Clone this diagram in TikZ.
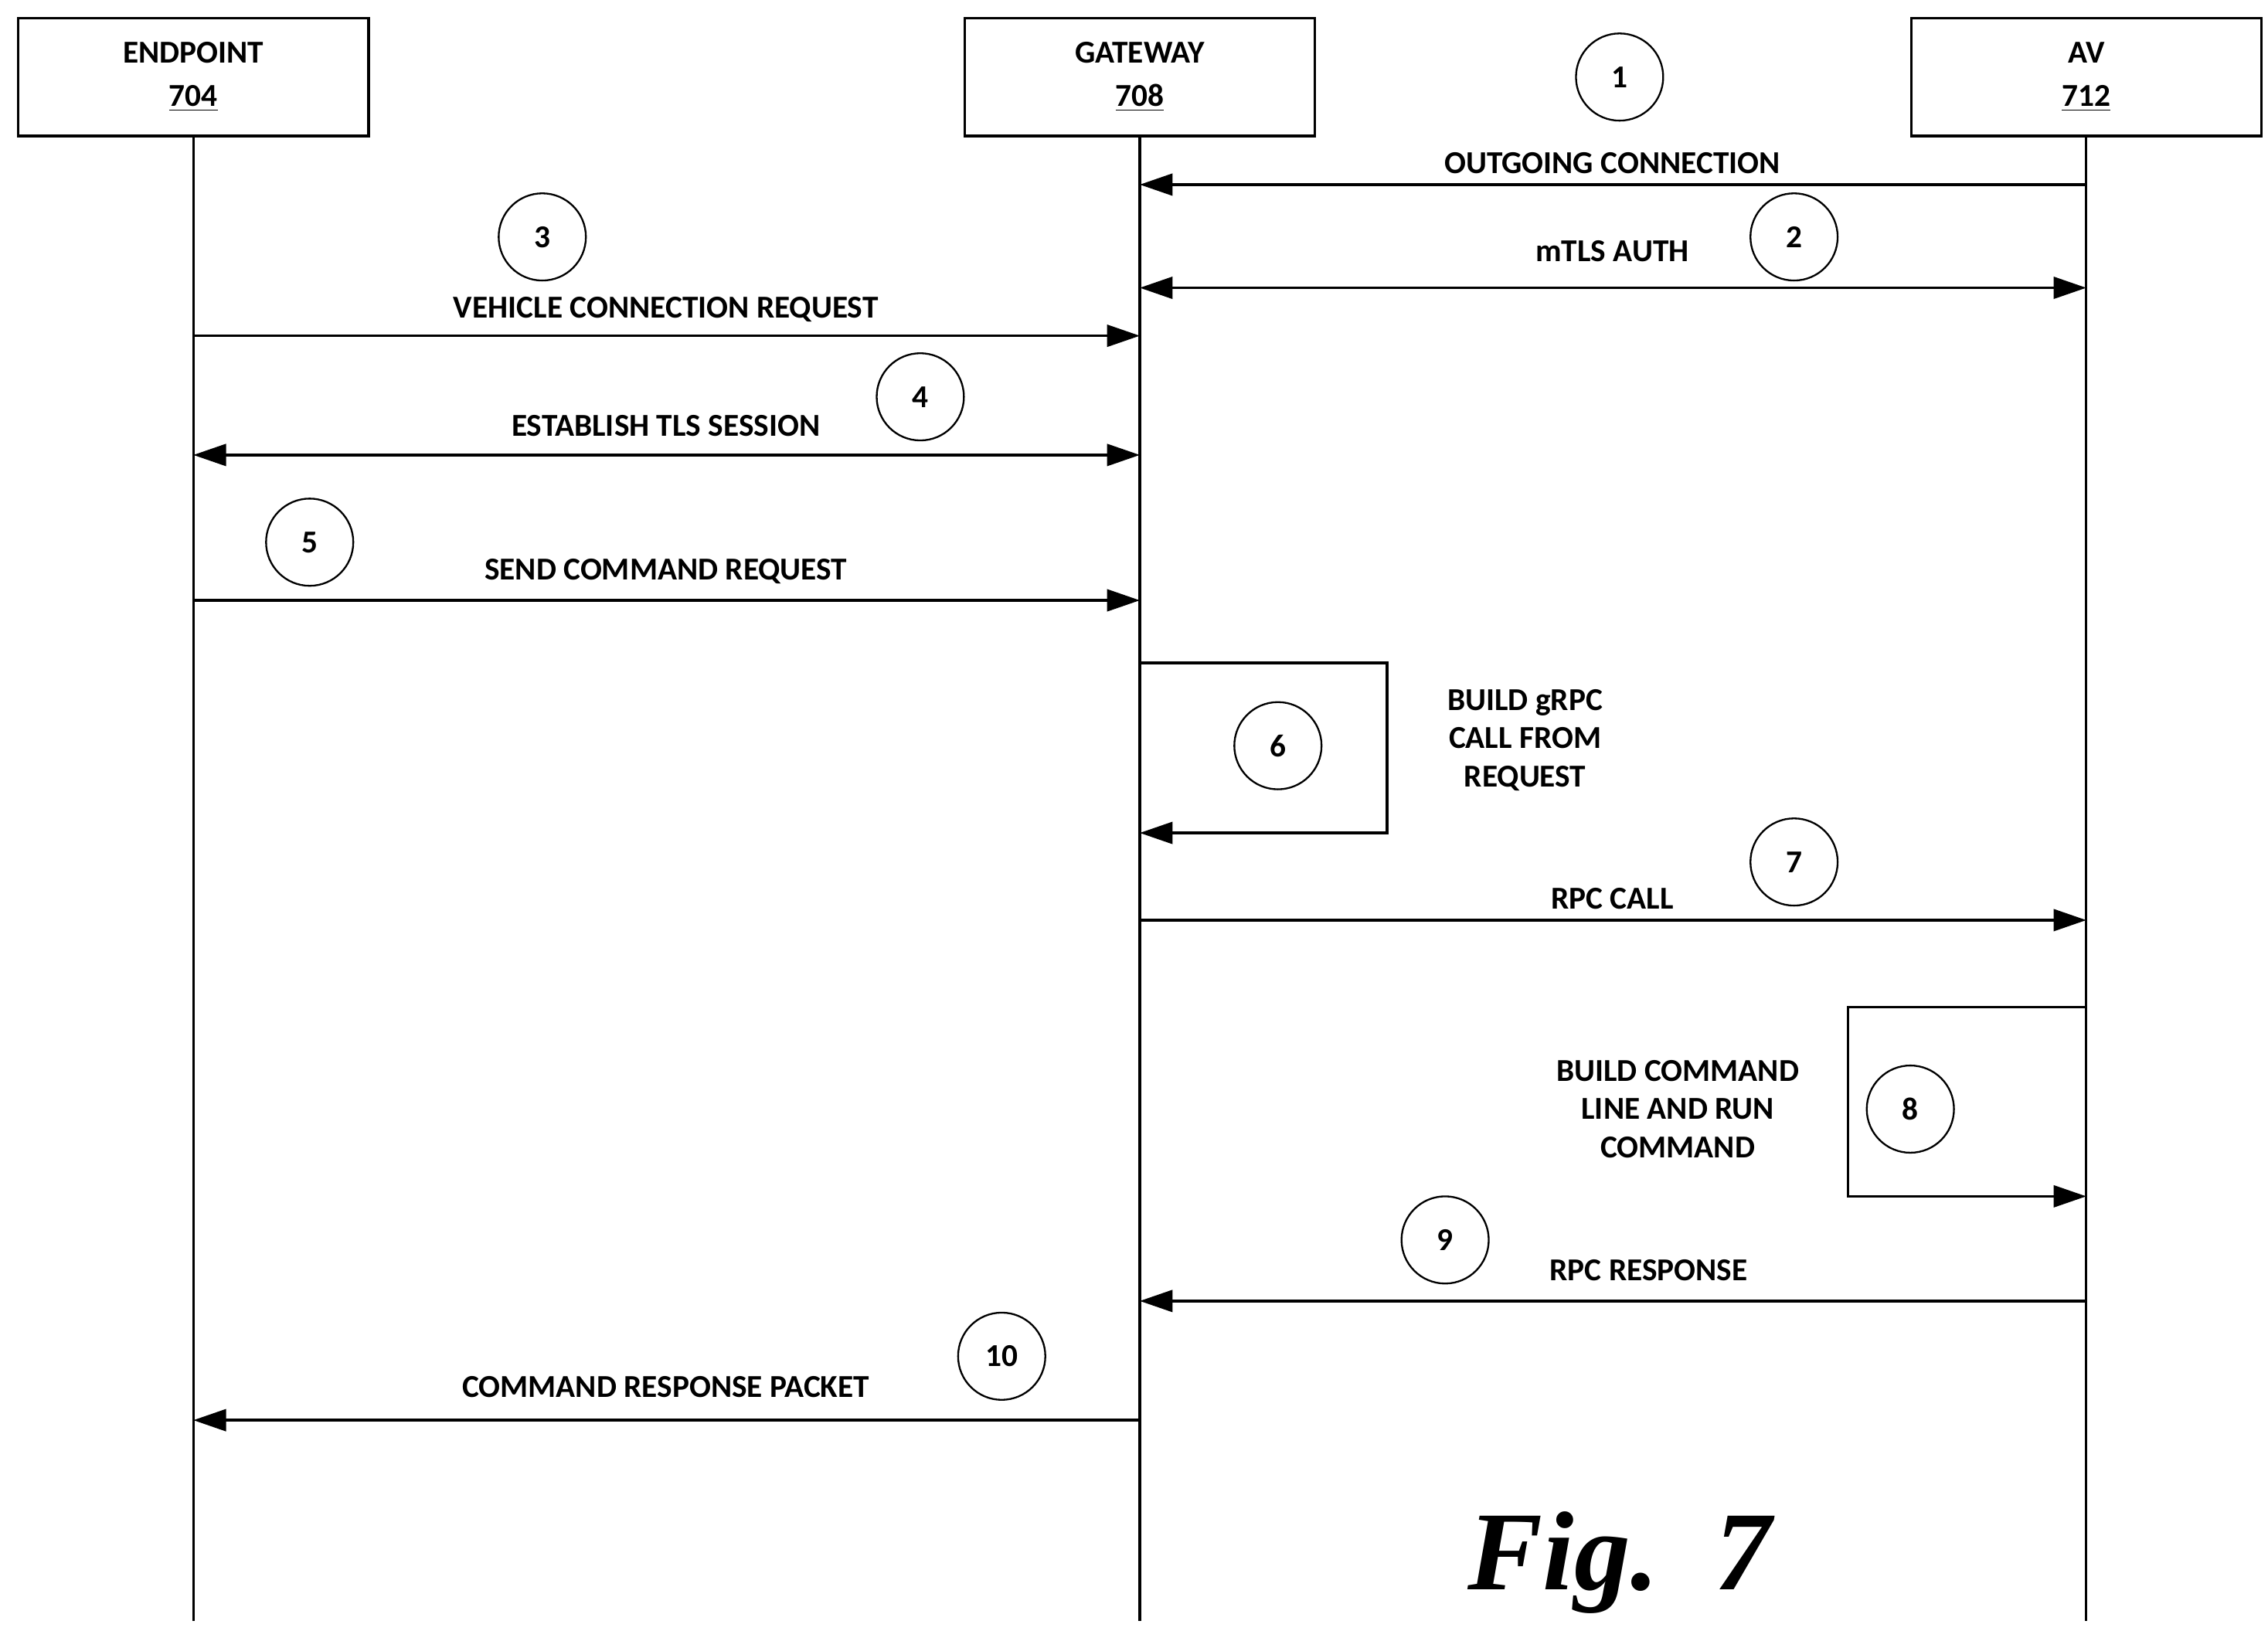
\documentclass[tikz,border=0pt]{standalone}
\usepackage{fontspec}
\setmainfont{Carlito}
\newfontfamily\figfont{Liberation Serif}
\usetikzlibrary{arrows.meta}
\tikzset{
  actor/.style={draw, line width=1pt, minimum width=4.82cm, minimum height=1.62cm, align=center, font=\bfseries\fontsize{12.5}{17}\selectfont},
  stepno/.style={draw, circle, line width=0.7pt, minimum size=1.2cm, inner sep=0pt, font=\bfseries\fontsize{12.5}{15}\selectfont},
  msg/.style={font=\bfseries\fontsize{12.5}{15}\selectfont, align=center},
  life/.style={line width=1pt},
  arr/.style={line width=1pt, -{Triangle[length=0.45cm, width=0.3cm]}},
  biarr/.style={line width=1pt, {Triangle[length=0.45cm, width=0.3cm]}-{Triangle[length=0.45cm, width=0.3cm]}}
}
\begin{document}
\begin{tikzpicture}[x=0.02cm, y=-0.02cm]
    \useasboundingbox (0,0) rectangle (1560,1122);
    % actors
    \node[actor] (endpoint) at (133,53) {ENDPOINT\\\underline{704}};
    \node[actor] (gateway) at (784,53) {GATEWAY\\\underline{708}};
    \node[actor] (av) at (1435,53) {AV\\\underline{712}};
    \coordinate (ebot) at (133,1115);
    \coordinate (gbot) at (784,1115);
    \coordinate (abot) at (1435,1115);
    \draw[life] (endpoint) -- (ebot);
    \draw[life] (gateway) -- (gbot);
    \draw[life] (av) -- (abot);

    % message anchors
    \foreach \y in {127,198,231,313,413,456,573,633,693,823,895,977} {
        \coordinate (e\y) at (133,\y);
        \coordinate (g\y) at (784,\y);
        \coordinate (a\y) at (1435,\y);
    }
    \coordinate (l1a) at (954,456);
    \coordinate (l1b) at (954,573);
    \coordinate (l2a) at (1271,693);
    \coordinate (l2b) at (1271,823);

    % messages
    \draw[arr] (a127) -- (g127);
    \node[msg] (m1) at (1109,112) {OUTGOING CONNECTION};
    \draw[biarr] (g198) -- (a198);
    \node[msg] (m2) at (1109,173) {mTLS AUTH};
    \draw[arr] (e231) -- (g231);
    \node[msg] (m3) at (458,213) {VEHICLE CONNECTION REQUEST};
    \draw[biarr] (e313) -- (g313);
    \node[msg] (m4) at (458,293) {ESTABLISH TLS SESSION};
    \draw[arr] (e413) -- (g413);
    \node[msg] (m5) at (458,393) {SEND COMMAND REQUEST};
    \draw[arr] (g456) -- (l1a) -- (l1b) -- (g573);
    \node[msg] (m6) at (1049,509) {BUILD gRPC\\CALL FROM\\REQUEST};
    \draw[arr] (g633) -- (a633);
    \node[msg] (m7) at (1109,618) {RPC CALL};
    \draw[arr] (a693) -- (l2a) -- (l2b) -- (a823);
    \node[msg] (m8) at (1154,763) {BUILD COMMAND\\LINE AND RUN\\COMMAND};
    \draw[arr] (a895) -- (g895);
    \node[msg] (m9) at (1134,874) {RPC RESPONSE};
    \draw[arr] (g977) -- (e977);
    \node[msg] (m10) at (458,954) {COMMAND RESPONSE PACKET};

    % step numbers
    \node[stepno] (s1) at (1114,53) {1};
    \node[stepno] (s2) at (1234,163) {2};
    \node[stepno] (s3) at (373,163) {3};
    \node[stepno] (s4) at (633,273) {4};
    \node[stepno] (s5) at (213,373) {5};
    \node[stepno] (s6) at (879,513) {6};
    \node[stepno] (s7) at (1234,593) {7};
    \node[stepno] (s8) at (1314,763) {8};
    \node[stepno] (s9) at (994,853) {9};
    \node[stepno] (s10) at (689,933) {10};

    \node[font=\figfont\bfseries\itshape\fontsize{44}{50}\selectfont] (fig) at (1114,1075) {Fig.\ \ 7};
\end{tikzpicture}
\end{document}
